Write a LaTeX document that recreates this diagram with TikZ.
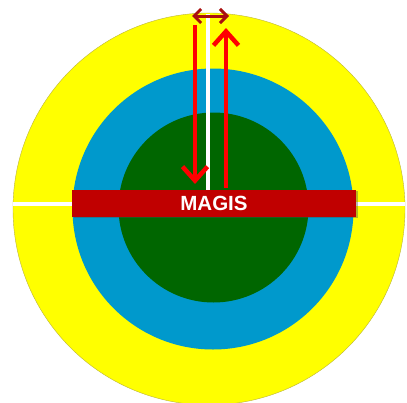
\documentclass[tikz,border=0pt]{standalone}
\usepackage{fontspec}
\setmainfont{Liberation Sans}
\usetikzlibrary{arrows.meta,shadows}
\definecolor{ringyellow}{RGB}{255,255,0}
\definecolor{ringblue}{RGB}{0,153,204}
\definecolor{ringgreen}{RGB}{0,102,0}
\definecolor{barred}{RGB}{192,0,0}
\definecolor{arrred}{RGB}{255,0,0}
\definecolor{darkarr}{RGB}{170,15,15}
\tikzset{
  disc/.style={circle, inner sep=0pt, minimum size=#1},
  bar/.style={rectangle, fill=barred, minimum width=284pt, minimum height=27pt, inner sep=0pt,
     drop shadow={opacity=0.4, shadow xshift=1.5pt, shadow yshift=-1.5pt, fill=black!70}},
  whiteline/.style={draw=white, line width=3.5pt},
  bigarrow/.style={draw=arrred, line width=4.5pt, -{Straight Barb[length=14pt, width=25pt, line width=4.5pt]}},
  widthmark/.style={draw=darkarr, line width=3pt, {Straight Barb[length=7pt, width=14pt, line width=3pt]}-{Straight Barb[length=7pt, width=14pt, line width=3pt]}}
}
\begin{document}
\begin{tikzpicture}[x=1pt, y=-1pt]
\useasboundingbox (0,0) rectangle (407,402);
\fill[white] (0,0) rectangle (407,402);
\clip (0,0) rectangle (407,402);
\node[disc=392pt, fill=ringyellow, draw=yellow!70!black, line width=0.4pt] (yellow) at (209,209) {};
\node[disc=281pt, fill=ringblue] (blue) at (213,209) {};
\node[disc=190pt, fill=ringgreen] (green) at (213.5,207.5) {};
\draw[whiteline] (yellow.west |- 0,204) coordinate (hl) -- (yellow.east |- 0,204) coordinate (hr);
\coordinate (vtop) at (208,14);
\coordinate (vbot) at (208,192);
\draw[whiteline] (vtop) -- (vbot);
\node[bar] (magis) at (214,203) {};
\node[text=white, font=\bfseries\fontsize{20.5}{24}\selectfont] (label) at (214,203) {MAGIS};
\coordinate (dtop) at (195,25);
\coordinate (dbot) at (195,184);
\draw[bigarrow] (dtop) -- (dbot);
\coordinate (ubot) at (226,188);
\coordinate (utop) at (226,28);
\draw[bigarrow] (ubot) -- (utop);
\coordinate (wl) at (192,16);
\coordinate (wr) at (229,16);
\draw[widthmark] (wl) -- (wr);
\end{tikzpicture}
\end{document}
